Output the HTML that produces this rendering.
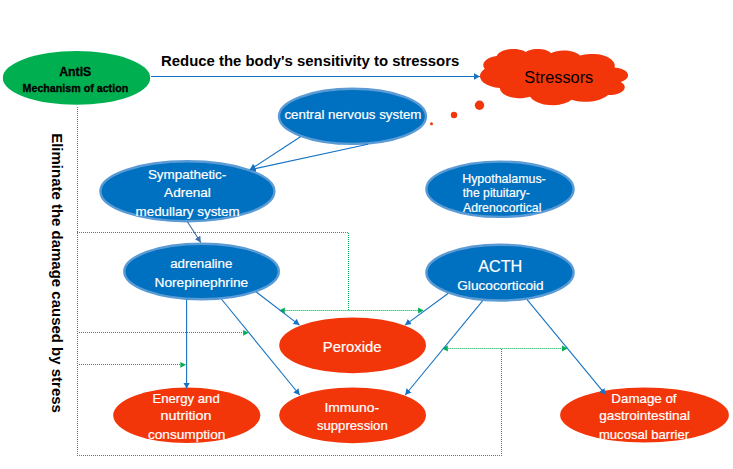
<!DOCTYPE html>
<html><head><meta charset="utf-8"><style>
html,body{margin:0;padding:0;background:#fff;}
svg{display:block;font-family:"Liberation Sans",sans-serif;}
</style></head><body>
<svg width="733" height="469" viewBox="0 0 733 469">
<defs>
<marker id="ab" viewBox="0 0 10 10" refX="10" refY="5" markerWidth="6" markerHeight="6.6" preserveAspectRatio="none" markerUnits="userSpaceOnUse" orient="auto"><path d="M0,0 L10,5 L0,10 z" fill="#1672C2"/></marker>
<marker id="ab2" viewBox="0 0 10 10" refX="10" refY="5" markerWidth="6" markerHeight="6.6" preserveAspectRatio="none" markerUnits="userSpaceOnUse" orient="auto"><path d="M0,0 L10,5 L0,10 z" fill="#3F6FA6"/></marker>
</defs>
<line x1="77.5" y1="107" x2="77.5" y2="456" stroke="#00B050" stroke-opacity="1" stroke-width="1" stroke-dasharray="1 1" shape-rendering="crispEdges"/>
<line x1="77" y1="232.5" x2="348" y2="232.5" stroke="#00B050" stroke-opacity="1" stroke-width="1" stroke-dasharray="1 1" shape-rendering="crispEdges"/>
<line x1="348.5" y1="233" x2="348.5" y2="310" stroke="#00B050" stroke-opacity="1" stroke-width="1" stroke-dasharray="1 1" shape-rendering="crispEdges"/>
<line x1="77" y1="455.5" x2="502" y2="455.5" stroke="#00B050" stroke-opacity="1" stroke-width="1" stroke-dasharray="1 1" shape-rendering="crispEdges"/>
<line x1="501.5" y1="349" x2="501.5" y2="456" stroke="#00B050" stroke-opacity="1" stroke-width="1" stroke-dasharray="1 1" shape-rendering="crispEdges"/>
<line x1="79" y1="332.5" x2="243" y2="332.5" stroke="#00B050" stroke-opacity="1" stroke-width="1" stroke-dasharray="1 1" shape-rendering="crispEdges"/>
<line x1="79" y1="364.5" x2="180" y2="364.5" stroke="#00B050" stroke-opacity="1" stroke-width="1" stroke-dasharray="1 1" shape-rendering="crispEdges"/>
<line x1="285" y1="310.5" x2="418" y2="310.5" stroke="#00B050" stroke-opacity="0.4" stroke-width="1" shape-rendering="crispEdges"/>
<line x1="448" y1="348.5" x2="562" y2="348.5" stroke="#00B050" stroke-opacity="0.4" stroke-width="1" shape-rendering="crispEdges"/>
<line x1="285" y1="310.5" x2="418" y2="310.5" stroke="#00B050" stroke-opacity="0.45" stroke-width="1" stroke-dasharray="1 1" shape-rendering="crispEdges"/>
<line x1="448" y1="348.5" x2="562" y2="348.5" stroke="#00B050" stroke-opacity="0.45" stroke-width="1" stroke-dasharray="1 1" shape-rendering="crispEdges"/>
<polygon points="248.7,332.8 243.1,329.90000000000003 243.1,335.7" fill="#00B050"/>
<polygon points="186,364.8 180.4,361.90000000000003 180.4,367.7" fill="#00B050"/>
<polygon points="279.2,310.5 284.8,307.6 284.8,313.4" fill="#00B050"/>
<polygon points="423.7,310.5 418.09999999999997,307.6 418.09999999999997,313.4" fill="#00B050"/>
<polygon points="442.2,348.5 447.8,345.6 447.8,351.4" fill="#00B050"/>
<polygon points="567.6,348.5 562.0,345.6 562.0,351.4" fill="#00B050"/>
<ellipse cx="76.5" cy="77.9" rx="73.7" ry="26.9" fill="#00B050"/>
<path d="M614.64,67.43 L614.76,64.76 L613.73,62.14 L611.61,59.70 L608.50,57.57 L604.55,55.85 L599.96,54.62 L594.96,53.96 L589.80,53.88 L584.74,54.39 L580.02,55.48 L578.16,54.01 L575.80,52.74 L573.03,51.72 L569.95,50.99 L566.66,50.56 L563.27,50.46 L559.91,50.68 L556.68,51.22 L553.70,52.06 L551.07,53.17 L549.45,51.85 L547.35,50.72 L544.85,49.83 L542.06,49.22 L539.10,48.92 L536.07,48.93 L533.11,49.26 L530.34,49.88 L527.86,50.79 L525.79,51.93 L523.06,50.61 L519.82,49.63 L516.24,49.05 L512.50,48.90 L508.78,49.19 L505.29,49.90 L502.20,51.00 L499.66,52.43 L497.80,54.11 L496.73,55.97 L493.80,56.52 L491.09,57.33 L488.69,58.37 L486.67,59.60 L485.07,60.99 L483.96,62.50 L483.36,64.09 L483.29,65.71 L483.75,67.31 L484.73,68.85 L482.21,70.98 L480.59,73.33 L479.94,75.81 L480.30,78.30 L481.65,80.70 L483.92,82.90 L487.03,84.82 L490.84,86.36 L495.17,87.45 L499.86,88.06 L500.33,90.22 L501.68,92.27 L503.83,94.14 L506.69,95.73 L510.13,96.97 L514.00,97.80 L518.13,98.20 L522.32,98.14 L526.40,97.62 L530.17,96.68 L532.23,99.16 L535.32,101.34 L539.26,103.11 L543.87,104.38 L548.91,105.08 L554.12,105.17 L559.23,104.66 L564.00,103.56 L568.17,101.94 L571.54,99.87 L575.30,100.84 L579.32,101.49 L583.48,101.81 L587.69,101.77 L591.83,101.39 L595.80,100.68 L599.50,99.64 L602.84,98.31 L605.74,96.73 L608.11,94.93 L611.75,94.92 L615.27,94.45 L618.47,93.56 L621.17,92.30 L623.19,90.74 L624.42,88.98 L624.79,87.11 L624.27,85.25 L622.90,83.51 L620.76,82.00 L623.71,80.81 L626.01,79.29 L627.51,77.51 L628.11,75.60 L627.78,73.67 L626.55,71.84 L624.47,70.23 L621.70,68.94 L618.39,68.04 L614.76,67.60Z" fill="#F3360A"/>
<circle cx="431.5" cy="123.8" r="1.5" fill="#F3360A"/>
<circle cx="454" cy="115" r="3.2" fill="#F3360A"/>
<circle cx="479.5" cy="105.3" r="4.7" fill="#F3360A"/>
<ellipse cx="352.5" cy="116.35" rx="73.5" ry="27.55" fill="#0070C0" stroke="#5B9BD5" stroke-width="2.4"/>
<ellipse cx="187.4" cy="191.25" rx="87" ry="29.95" fill="#0070C0" stroke="#5B9BD5" stroke-width="2.4"/>
<ellipse cx="500" cy="189.25" rx="73.6" ry="27.65" fill="#0070C0" stroke="#5B9BD5" stroke-width="2.4"/>
<ellipse cx="201.55" cy="271.5" rx="77.25" ry="27.7" fill="#0070C0" stroke="#5B9BD5" stroke-width="2.4"/>
<ellipse cx="500" cy="272.6" rx="73.6" ry="27.9" fill="#0070C0" stroke="#5B9BD5" stroke-width="2.4"/>
<ellipse cx="352.6" cy="345.3" rx="73.4" ry="27.9" fill="#F3360A"/>
<ellipse cx="186.75" cy="415.3" rx="73.55" ry="27.7" fill="#F3360A"/>
<ellipse cx="352.6" cy="415.3" rx="73.4" ry="27.9" fill="#F3360A"/>
<ellipse cx="644.5" cy="415" rx="84.4" ry="27.6" fill="#F3360A"/>
<line x1="151" y1="76.5" x2="480" y2="76.5" stroke="#1672C2" stroke-width="1" marker-end="url(#ab)"/>
<line x1="300.46" y1="136.74" x2="249.8" y2="169.8" stroke="#1672C2" stroke-width="1.1" marker-end="url(#ab)"/>
<line x1="367.97" y1="144.23" x2="249.8" y2="169.8" stroke="#1672C2" stroke-width="1.1" marker-end="url(#ab)"/>
<line x1="187.4" y1="221.7" x2="200.8" y2="242.5" stroke="#3F6FA6" stroke-width="1.1" marker-end="url(#ab2)"/>
<line x1="256.31" y1="292.01" x2="299.5" y2="325.1" stroke="#1672C2" stroke-width="1.1" marker-end="url(#ab)"/>
<line x1="221.54" y1="299.25" x2="299.7" y2="395" stroke="#1672C2" stroke-width="1.1" marker-end="url(#ab)"/>
<line x1="186.6" y1="299.67" x2="186.6" y2="388.6" stroke="#1672C2" stroke-width="1.1" marker-end="url(#ab)"/>
<line x1="448.04" y1="293.46" x2="405" y2="325.1" stroke="#1672C2" stroke-width="1.1" marker-end="url(#ab)"/>
<line x1="482.54" y1="300.8" x2="405.2" y2="395" stroke="#1672C2" stroke-width="1.1" marker-end="url(#ab)"/>
<line x1="527.11" y1="299.63" x2="605.6" y2="394.6" stroke="#1672C2" stroke-width="1.1" marker-end="url(#ab)"/>
<text x="59.22" y="76.0" font-size="12.5" fill="#000" stroke="#000" stroke-width="0.3" font-weight="bold" textLength="31.99" lengthAdjust="spacingAndGlyphs">AntiS</text>
<text x="22.55" y="91.5" font-size="11" fill="#000" stroke="#000" stroke-width="0.3" font-weight="bold" textLength="105.63" lengthAdjust="spacingAndGlyphs">Mechanism of action</text>
<text x="161.09" y="66" font-size="15" fill="#000" font-weight="bold" textLength="298.17" lengthAdjust="spacingAndGlyphs">Reduce the body's sensitivity to stressors</text>
<text x="524.37" y="82.8" font-size="16.8" fill="#000" textLength="68.89" lengthAdjust="spacingAndGlyphs">Stressors</text>
<text x="284.43" y="118.6" font-size="13.3" fill="#fff" stroke="#fff" stroke-width="0.2" textLength="136.98" lengthAdjust="spacingAndGlyphs">central nervous system</text>
<text x="147.90" y="178.8" font-size="12.6" fill="#fff" stroke="#fff" stroke-width="0.2" textLength="78.42" lengthAdjust="spacingAndGlyphs">Sympathetic-</text>
<text x="164.14" y="196.5" font-size="12.6" fill="#fff" stroke="#fff" stroke-width="0.2" textLength="46.73" lengthAdjust="spacingAndGlyphs">Adrenal</text>
<text x="135.57" y="215.5" font-size="12.6" fill="#fff" stroke="#fff" stroke-width="0.2" textLength="104.07" lengthAdjust="spacingAndGlyphs">medullary system</text>
<text x="462.16" y="182.9" font-size="12.6" fill="#fff" stroke="#fff" stroke-width="0.2" textLength="83.60" lengthAdjust="spacingAndGlyphs">Hypothalamus-</text>
<text x="462.73" y="197.0" font-size="12.6" fill="#fff" stroke="#fff" stroke-width="0.2" textLength="67.22" lengthAdjust="spacingAndGlyphs">the pituitary-</text>
<text x="462.97" y="211.7" font-size="12.6" fill="#fff" stroke="#fff" stroke-width="0.2" textLength="78.43" lengthAdjust="spacingAndGlyphs">Adrenocortical</text>
<text x="170.22" y="268.3" font-size="12.5" fill="#fff" stroke="#fff" stroke-width="0.2" textLength="62.14" lengthAdjust="spacingAndGlyphs">adrenaline</text>
<text x="154.53" y="286.7" font-size="12.5" fill="#fff" stroke="#fff" stroke-width="0.2" textLength="93.71" lengthAdjust="spacingAndGlyphs">Norepinephrine</text>
<text x="478.14" y="271.6" font-size="16.6" fill="#fff" stroke="#fff" stroke-width="0.2" textLength="44.21" lengthAdjust="spacingAndGlyphs">ACTH</text>
<text x="457.24" y="290.4" font-size="12.3" fill="#fff" stroke="#fff" stroke-width="0.2" textLength="86.46" lengthAdjust="spacingAndGlyphs">Glucocorticoid</text>
<text x="322.86" y="351.7" font-size="15.5" fill="#fff" stroke="#fff" stroke-width="0.2" textLength="58.63" lengthAdjust="spacingAndGlyphs">Peroxide</text>
<text x="152.48" y="402.5" font-size="12.2" fill="#fff" stroke="#fff" stroke-width="0.2" textLength="67.25" lengthAdjust="spacingAndGlyphs">Energy and</text>
<text x="160.59" y="420.2" font-size="12.2" fill="#fff" stroke="#fff" stroke-width="0.2" textLength="50.88" lengthAdjust="spacingAndGlyphs">nutrition</text>
<text x="147.92" y="438.5" font-size="12.2" fill="#fff" stroke="#fff" stroke-width="0.2" textLength="77.45" lengthAdjust="spacingAndGlyphs">consumption</text>
<text x="324.42" y="411.6" font-size="12.2" fill="#fff" stroke="#fff" stroke-width="0.2" textLength="54.66" lengthAdjust="spacingAndGlyphs">Immuno-</text>
<text x="316.94" y="430.4" font-size="12.2" fill="#fff" stroke="#fff" stroke-width="0.2" textLength="70.77" lengthAdjust="spacingAndGlyphs">suppression</text>
<text x="611.35" y="402.5" font-size="12.2" fill="#fff" stroke="#fff" stroke-width="0.2" textLength="65.21" lengthAdjust="spacingAndGlyphs">Damage of</text>
<text x="599.22" y="419.8" font-size="12.2" fill="#fff" stroke="#fff" stroke-width="0.2" textLength="90.87" lengthAdjust="spacingAndGlyphs">gastrointestinal</text>
<text x="598.90" y="438.7" font-size="12.2" fill="#fff" stroke="#fff" stroke-width="0.2" textLength="90.26" lengthAdjust="spacingAndGlyphs">mucosal barrier</text>
<g transform="translate(52,0) rotate(90)"><text x="133.20" y="0" font-size="15.5" fill="#000" font-weight="bold" textLength="279.69" lengthAdjust="spacingAndGlyphs">Eliminate the damage caused by stress</text></g>
</svg>
</body></html>
